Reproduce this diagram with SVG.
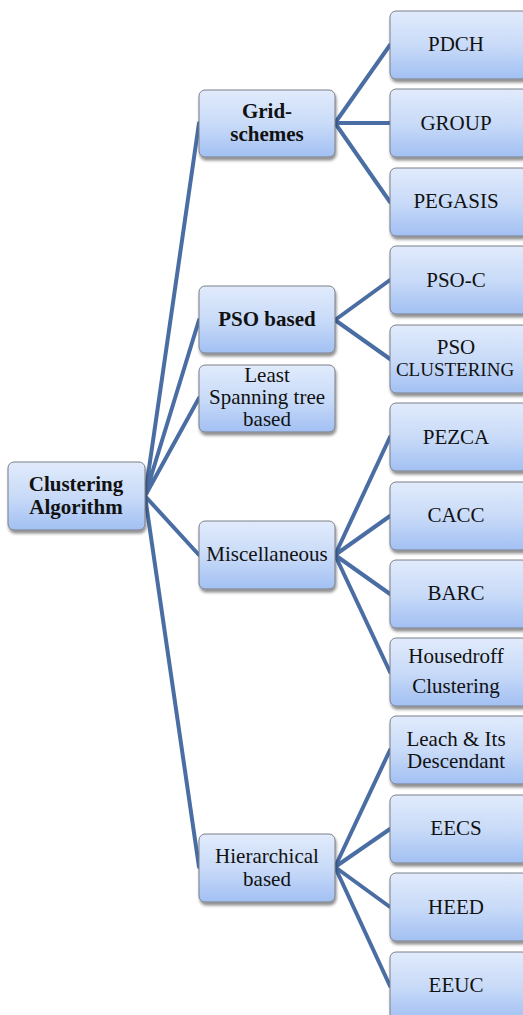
<svg xmlns="http://www.w3.org/2000/svg" width="523" height="1015" viewBox="0 0 523 1015">
<defs>
<linearGradient id="g" x1="0" y1="0" x2="0" y2="1">
<stop offset="0" stop-color="#e1ebfc"/>
<stop offset="0.5" stop-color="#c9dbf8"/>
<stop offset="1" stop-color="#a2c0f3"/>
</linearGradient>
<filter id="sh" x="-10%" y="-10%" width="130%" height="140%">
<feGaussianBlur in="SourceAlpha" stdDeviation="1.5"/>
<feOffset dx="1" dy="2.5" result="b"/>
<feComponentTransfer><feFuncA type="linear" slope="0.45"/></feComponentTransfer>
<feMerge><feMergeNode/><feMergeNode in="SourceGraphic"/></feMerge>
</filter>
</defs>
<style>
.box{fill:url(#g);stroke:#7a7f88;stroke-width:1;filter:url(#sh)}
text{font-family:"Liberation Serif","Times New Roman",serif;font-size:21px;fill:#111;text-anchor:middle}
.b{font-weight:bold}
.s{font-size:19px}
.c{stroke:#4a6ea4;stroke-width:4;fill:none;stroke-linecap:round}
</style>
<g id="connectors">
<path class="c" d="M145 496 L199 123 M145 496 L199 320 M145 496 L199 398 M145 496 L199 555 M145 496 L199 867"/>
<path class="c" d="M335 123 L390 45 M335 123 L390 123 M335 123 L390 202"/>
<path class="c" d="M335 320 L390 280 M335 320 L390 359"/>
<path class="c" d="M335 555 L390 437 M335 555 L390 516 M335 555 L390 594 M335 555 L390 672"/>
<path class="c" d="M335 867 L390 750 M335 867 L390 829 M335 867 L390 907 M335 867 L390 986"/>
</g>
<g id="root"><rect class="box" x="8" y="462" width="137" height="68" rx="6"/><text class="b" x="76" y="491">Clustering</text><text class="b" x="76" y="514">Algorithm</text></g>
<g id="grid"><rect class="box" x="199" y="90" width="136" height="67" rx="6"/><text class="b" x="267" y="118">Grid-</text><text class="b" x="267" y="141">schemes</text></g>
<g id="pso"><rect class="box" x="199" y="286" width="136" height="67" rx="6"/><text class="b" x="267" y="326">PSO based</text></g>
<g id="lst"><rect class="box" x="199" y="365" width="136" height="67" rx="6"/><text x="267" y="382">Least</text><text x="267" y="404">Spanning tree</text><text x="267" y="426">based</text></g>
<g id="misc"><rect class="box" x="199" y="521" width="136" height="68" rx="6"/><text x="267" y="561">Miscellaneous</text></g>
<g id="hier"><rect class="box" x="199" y="834" width="136" height="68" rx="6"/><text x="267" y="863">Hierarchical</text><text x="267" y="886">based</text></g>
<g id="pdch"><rect class="box" x="390" y="11" width="138" height="68" rx="6"/><text x="456" y="51">PDCH</text></g>
<g id="group"><rect class="box" x="390" y="89" width="138" height="68" rx="6"/><text x="456" y="130">GROUP</text></g>
<g id="pegasis"><rect class="box" x="390" y="168" width="138" height="68" rx="6"/><text x="456" y="208">PEGASIS</text></g>
<g id="psoc"><rect class="box" x="390" y="246" width="138" height="68" rx="6"/><text x="456" y="287">PSO-C</text></g>
<g id="psocl"><rect class="box" x="390" y="325" width="138" height="68" rx="6"/><text x="456" y="354">PSO</text><text class="s" x="455" y="376">CLUSTERING</text></g>
<g id="pezca"><rect class="box" x="390" y="403" width="138" height="68" rx="6"/><text x="456" y="444">PEZCA</text></g>
<g id="cacc"><rect class="box" x="390" y="482" width="138" height="68" rx="6"/><text x="456" y="522">CACC</text></g>
<g id="barc"><rect class="box" x="390" y="560" width="138" height="68" rx="6"/><text x="456" y="600">BARC</text></g>
<g id="haus"><rect class="box" x="390" y="638" width="138" height="68" rx="6"/><text x="456" y="663">Housedroff</text><text x="456" y="693">Clustering</text></g>
<g id="leach"><rect class="box" x="390" y="716" width="138" height="68" rx="6"/><text x="456" y="746">Leach &amp; Its</text><text x="456" y="768">Descendant</text></g>
<g id="eecs"><rect class="box" x="390" y="795" width="138" height="68" rx="6"/><text x="456" y="835">EECS</text></g>
<g id="heed"><rect class="box" x="390" y="873" width="138" height="68" rx="6"/><text x="456" y="914">HEED</text></g>
<g id="eeuc"><rect class="box" x="390" y="952" width="138" height="68" rx="6"/><text x="456" y="992">EEUC</text></g>
</svg>
